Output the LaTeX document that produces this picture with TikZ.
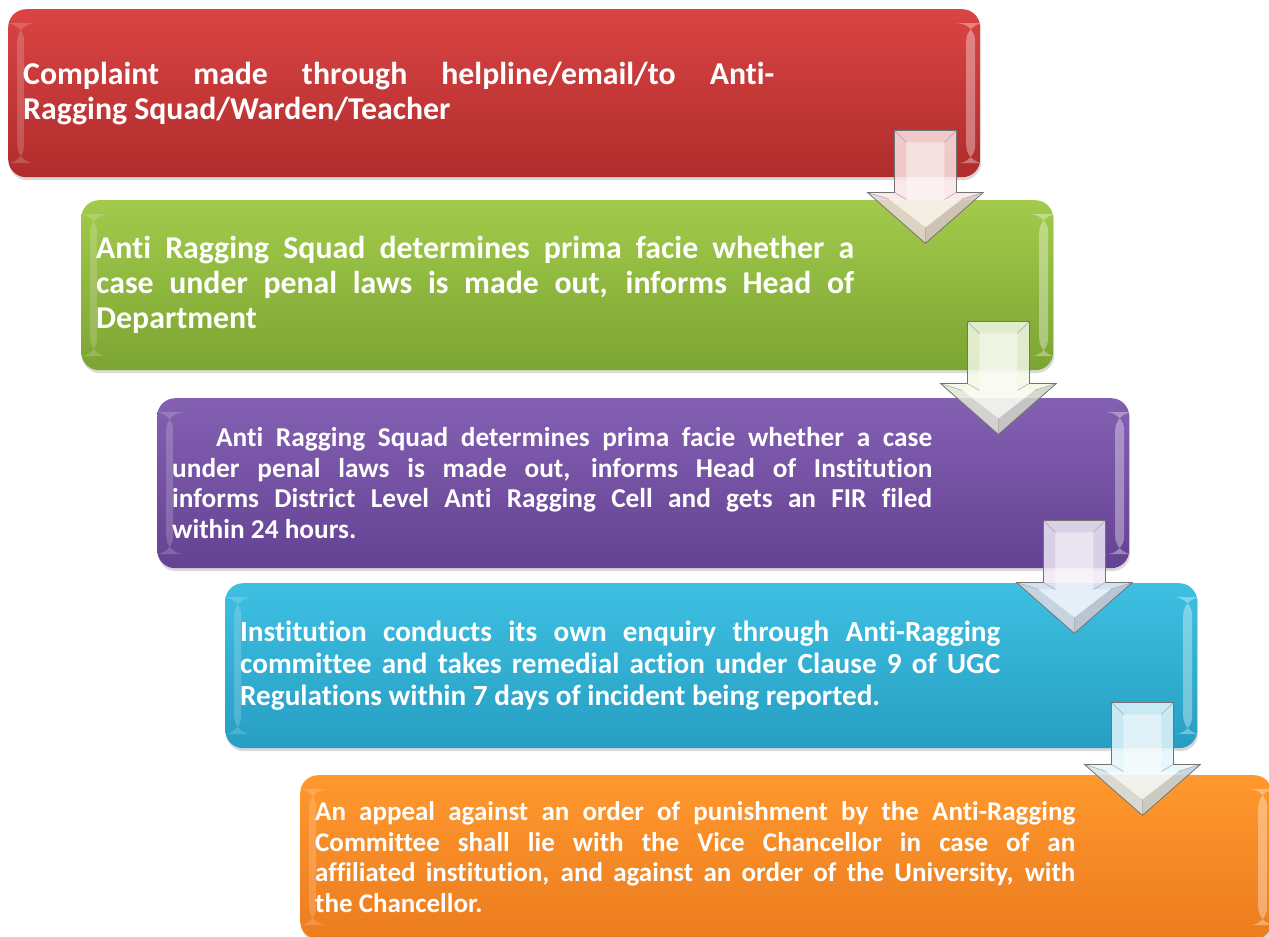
\documentclass[tikz,border=0pt]{standalone}
\usepackage{fontspec}
\setmainfont{Carlito}[Ligatures=CommonOff]
\usetikzlibrary{shadows, positioning}
\definecolor{redTop}{RGB}{218,68,68}
\definecolor{redBot}{RGB}{176,44,44}
\definecolor{greenTop}{RGB}{162,203,76}
\definecolor{greenBot}{RGB}{124,164,50}
\definecolor{purpleTop}{RGB}{132,96,178}
\definecolor{purpleBot}{RGB}{100,66,146}
\definecolor{cyanTop}{RGB}{62,192,226}
\definecolor{cyanBot}{RGB}{38,158,194}
\definecolor{orangeTop}{RGB}{255,152,46}
\definecolor{orangeBot}{RGB}{236,124,30}

\begin{document}
\begin{tikzpicture}[
    x=1pt, y=1pt,
    box/.style={
        rectangle,
        rounded corners=18pt,
        anchor=north west,
        text width=942pt,
        inner xsep=15pt,
        inner ysep=0pt,
        align=justify,
        text=white,
        drop shadow={shadow xshift=1pt, shadow yshift=-3pt, opacity=0.3},
        path picture={
            \fill[white, opacity=0.18] ([shift={(9pt,-14pt)}]path picture bounding box.north west)
                rectangle ([shift={(16pt,14pt)}]path picture bounding box.south west);
            \fill[white, opacity=0.35] ([shift={(-14pt,-14pt)}]path picture bounding box.north east)
                rectangle ([shift={(-5pt,14pt)}]path picture bounding box.south east);
        }
    },
    bigFont/.style={font=\bfseries\fontsize{31.8}{35}\selectfont},
    cyanFont/.style={font=\bfseries\fontsize{29.2}{32}\selectfont},
    purpleFont/.style={font=\bfseries\fontsize{27.3}{30.5}\selectfont},
    orangeFont/.style={font=\bfseries\fontsize{27}{30.5}\selectfont},
    flowArrow/.pic={
        \fill[#1!14!white, fill opacity=0.85] (0,0) -- (-58,51) -- (-31,51) -- (-31,113)
            -- (31,113) -- (31,51) -- (58,51) -- cycle;
        \fill[black, opacity=0.12] (0,0) -- (58,51) -- (36,44) -- (0,16) -- cycle;
        \fill[black, opacity=0.06] (0,0) -- (-58,51) -- (-36,44) -- (0,16) -- cycle;
        \fill[white, opacity=0.45] (0,16) -- (-36,44) -- (-19,44) -- (-19,101)
            -- (19,101) -- (19,44) -- (36,44) -- cycle;
        \draw[black!35, line width=0.5pt] (0,0) -- (0,16) (-58,51) -- (-36,44) (58,51) -- (36,44)
            (-31,113) -- (-19,101) (31,113) -- (19,101) (-31,51) -- (-19,44) (31,51) -- (19,44);
        \draw[black!55, line width=0.8pt] (0,0) -- (-58,51) -- (-31,51) -- (-31,113)
            -- (31,113) -- (31,51) -- (58,51) -- cycle;
    }
]
    \useasboundingbox (0,0) rectangle (1269,-937);

    % Steps of the complaint procedure
    \node[box, bigFont, minimum height=168pt, top color=redTop, bottom color=redBot] (complaint) at (8,-9)
        {\parbox{751pt}{Complaint made through helpline/email/to Anti-\linebreak Ragging Squad/Warden/Teacher}};
    \node[box, bigFont, minimum height=170pt, top color=greenTop, bottom color=greenBot] (squadCheck) at (81,-200)
        {\parbox{758pt}{Anti Ragging Squad determines prima facie whether a\linebreak case under penal laws is made out, informs Head of\linebreak Department}};
    \node[box, purpleFont, minimum height=170pt, top color=purpleTop, bottom color=purpleBot] (firStep) at (157,-398)
        {\parbox{760pt}{\hspace*{44pt}Anti Ragging Squad determines prima facie whether a case\linebreak under penal laws is made out, informs Head of Institution\linebreak informs District Level Anti Ragging Cell and gets an FIR filed\linebreak within 24 hours.}};
    \node[box, cyanFont, minimum height=165pt, top color=cyanTop, bottom color=cyanBot] (enquiry) at (225,-583)
        {\parbox{760pt}{Institution conducts its own enquiry through Anti-Ragging\linebreak committee and takes remedial action under Clause 9 of UGC\linebreak Regulations within 7 days of incident being reported.}};
    \node[box, orangeFont, minimum height=164pt, top color=orangeTop, bottom color=orangeBot] (appeal) at (300,-775)
        {\parbox{760pt}{An appeal against an order of punishment by the Anti-Ragging\linebreak Committee shall lie with the Vice Chancellor in case of an\linebreak affiliated institution, and against an order of the University, with\linebreak the Chancellor.}};

    % Arrows between the steps
    \pic at ([shift={(-55,-66)}]complaint.south east) {flowArrow=redTop};
    \pic at ([shift={(-55,-64)}]squadCheck.south east) {flowArrow=greenTop};
    \pic at ([shift={(-55,-65)}]firStep.south east) {flowArrow=purpleTop};
    \pic at ([shift={(-55,-67)}]enquiry.south east) {flowArrow=cyanTop};
\end{tikzpicture}
\end{document}
